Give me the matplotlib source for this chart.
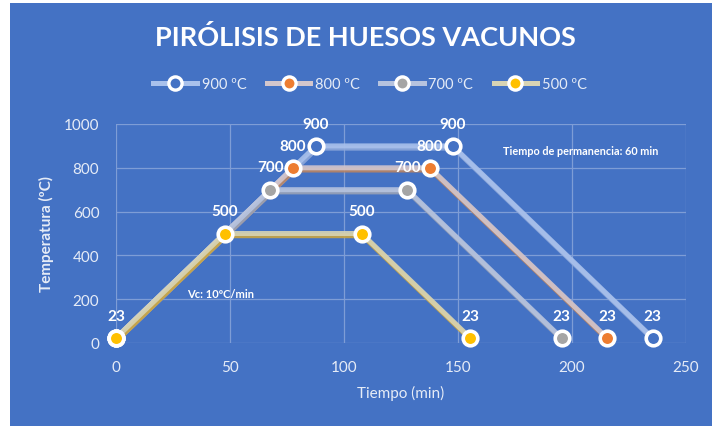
import matplotlib
matplotlib.use("Agg")
import matplotlib.pyplot as plt
import matplotlib.patheffects as pe
from matplotlib.patches import Rectangle
from matplotlib.lines import Line2D

plt.rcParams['font.family'] = ['Lato', 'DejaVu Sans']

# Heating / holding / cooling profiles (time in min, temperature in ºC)
series_names = ["900 ºC", "800 ºC", "700 ºC", "500 ºC"]
times = [
    [0, 87.7, 147.7, 235.4],
    [0, 77.7, 137.7, 215.4],
    [0, 67.7, 127.7, 195.4],
    [0, 47.7, 107.7, 155.4],
]
temps = [
    [23, 900, 900, 23],
    [23, 800, 800, 23],
    [23, 700, 700, 23],
    [23, 500, 500, 23],
]
x_ticks = [0, 50, 100, 150, 200, 250]
y_ticks = [0, 200, 400, 600, 800, 1000]

BG = "#4472C4"
TXT = "#E6ECF7"
marker_faces = ["#4472C4", "#ED7D31", "#A5A5A5", "#FFC000"]
line_tops = ["#A9C1EC", "#D3C6CC", "#B6C3DF", "#D8D4B4"]
line_shadows = ["#8EA8DA", "#B98464", "#98A1B6", "#C9A543"]

fig = plt.figure(figsize=(7.12, 4.27), dpi=100)
fig.patch.set_facecolor("white")
fig.patches.append(Rectangle((10 / 712, 0), 1 - 10 / 712, 1 - 4 / 427,
                             transform=fig.transFigure, facecolor=BG,
                             edgecolor="none", zorder=-5))

ax = fig.add_axes([116 / 712, 1 - 344 / 427, 570 / 712, 219 / 427])
ax.set_zorder(2)
ax.set_facecolor("none")
ax.set_xlim(0, 250)
ax.set_ylim(0, 1000)
ax.set_xticks(x_ticks)
ax.set_yticks(y_ticks)
for s in ax.spines.values():
    s.set_visible(False)
ax.grid(True, color="#7E9DD6", linewidth=0.9)
ax.set_axisbelow(True)
ax.tick_params(length=0, colors=TXT, labelsize=11)
ax.tick_params(axis="y", pad=12)
ax.tick_params(axis="x", pad=12)

n = len(series_names)
for i, name in enumerate(series_names):
    ax.plot(times[i], temps[i], color=line_tops[i], lw=3.6, alpha=0.9,
            solid_capstyle="round", zorder=3 + i, clip_on=False,
            path_effects=[pe.SimpleLineShadow(offset=(0.8, -1.6),
                                              shadow_color=line_shadows[i],
                                              alpha=0.9),
                          pe.Normal()])
    ax.plot(times[i], temps[i], ls="none", marker="o", ms=10.5,
            mfc=marker_faces[i], mec="white", mew=2.6, zorder=10 + i,
            clip_on=False)
    for k, (t, v) in enumerate(zip(times[i], temps[i])):
        # the shared starting point carries a single label (last series)
        if k == 0 and i != n - 1:
            continue
        ax.annotate(f"{v}", (t, v), xytext=(0, 11), textcoords="offset points",
                    ha="center", va="bottom", color="white",
                    fontsize=11, fontweight="bold", zorder=30)

ax.text(46, 224, "Vc: 10ºC/min", color="white", fontsize=8, fontweight="bold",
        ha="center", va="center", zorder=25)
ax.text(204, 877, "Tiempo de permanencia: 60 min", color="white", fontsize=7.8,
        fontweight="bold", ha="center", va="center")

ax.set_xlabel("Tiempo (min)", color=TXT, fontsize=11, labelpad=8)
ax.set_ylabel("Temperatura (ºC)", color=TXT, fontsize=11,
              fontweight="bold", labelpad=7)

fig.text(365 / 712, 1 - 38 / 427, "PIRÓLISIS DE HUESOS VACUNOS", color="white",
         fontsize=19.5, fontweight="bold", ha="center", va="center")

handles = []
for i, name in enumerate(series_names):
    handles.append(Line2D([0], [0], color=line_tops[i], lw=3.6, marker="o",
                          ms=9.5, mfc=marker_faces[i], mec="white", mew=2.4))
leg = fig.legend(handles, series_names, loc="center",
                 bbox_to_anchor=(370 / 712, 1 - 85 / 427), ncol=4,
                 frameon=False, fontsize=10.5, labelcolor=TXT,
                 handlelength=3.0, columnspacing=1.4, handletextpad=0.3)

fig.savefig("out.png", dpi=100, facecolor=fig.get_facecolor())
